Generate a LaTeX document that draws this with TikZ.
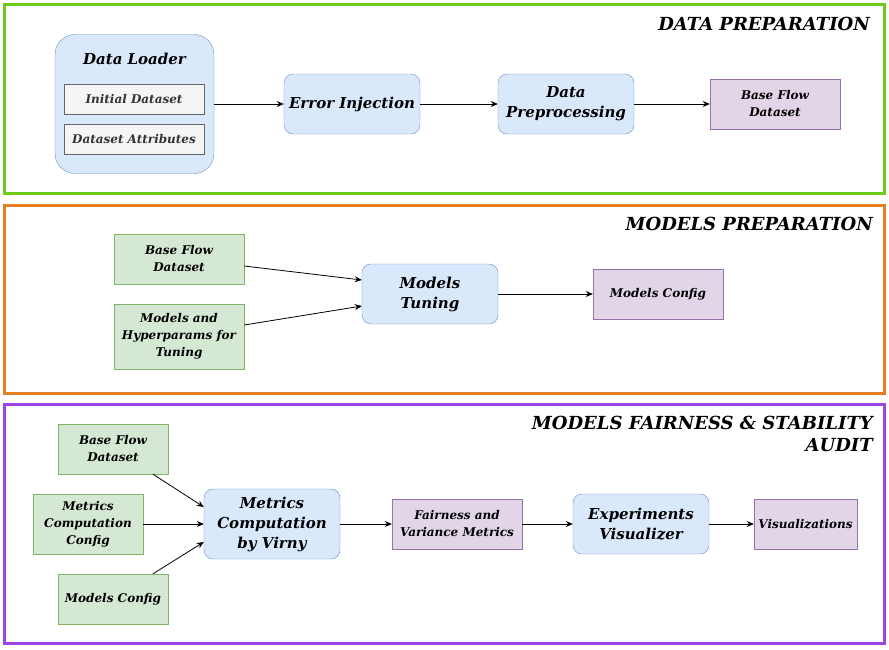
\documentclass[tikz,border=0pt]{standalone}
\usepackage{fontspec}
\setmainfont{DejaVu Serif}
\usetikzlibrary{arrows.meta}

\definecolor{procfill}{HTML}{DAE8FC}
\definecolor{procline}{HTML}{6C8EBF}
\definecolor{infill}{HTML}{D5E8D4}
\definecolor{inline}{HTML}{82B366}
\definecolor{outfill}{HTML}{E1D5E7}
\definecolor{outline}{HTML}{9673A6}
\definecolor{attrfill}{HTML}{F5F5F5}
\definecolor{attrline}{HTML}{666666}
\definecolor{attrtext}{HTML}{333333}
\definecolor{dataframe}{HTML}{6ECB1C}
\definecolor{modelframe}{HTML}{E67E22}
\definecolor{auditframe}{HTML}{9B45E4}

\tikzset{
	every node/.style={font=\bfseries\itshape, align=center, inner sep=0pt},
	proc/.style={draw=procline, fill=procfill, rounded corners=9pt, minimum width=136pt, minimum height=60pt, font=\bfseries\itshape\fontsize{15}{20}\selectfont},
	inbox/.style={draw=inline, fill=infill, minimum width=130pt, minimum height=50pt, font=\bfseries\itshape\fontsize{12}{17}\selectfont},
	outbox/.style={draw=outline, fill=outfill, minimum width=130pt, minimum height=50pt, font=\bfseries\itshape\fontsize{12}{17}\selectfont},
	attr/.style={draw=attrline, fill=attrfill, text=attrtext, minimum width=140pt, minimum height=30pt, font=\bfseries\itshape\fontsize{12}{17}\selectfont},
	frame/.style={line width=3pt},
	title/.style={anchor=east, font=\bfseries\itshape\fontsize{18}{22}\selectfont, align=right},
	flow/.style={-{Stealth[length=7pt,width=6pt]}, line width=0.8pt}
}

\begin{document}
\begin{tikzpicture}[x=1pt, y=-1pt]

	\useasboundingbox (0,0) rectangle (889,649);

	% panel frames

	\draw[frame, color=dataframe] (4.5,4.5) rectangle (884.5,193.5);
	\draw[frame, color=modelframe] (4.5,205) rectangle (884.5,393.5);
	\draw[frame, color=auditframe] (4.5,404.5) rectangle (884.5,643.5);

	\node[title] (datatitle) at (870,24) {DATA PREPARATION};
	\node[title] (modeltitle) at (873,224) {MODELS PREPARATION};
	\node[title] (audittitle) at (873,434) {MODELS FAIRNESS \& STABILITY\\AUDIT};

	% data preparation

	\node[proc, rounded corners=20pt, minimum width=159pt, minimum height=139pt] (loader) at (134.5,104) {};
	\node[font=\bfseries\itshape\fontsize{15}{20}\selectfont] (loadertitle) at (134.5,59) {Data Loader};
	\node[attr] (initial) at (134,99) {Initial Dataset};
	\node[attr] (attrs) at (134,139) {Dataset Attributes};
	\node[proc] (inject) at (352,104) {Error Injection};
	\node[proc] (prep) at (566,104) {Data\\Preprocessing};
	\node[outbox] (baseA) at (775,104) {Base Flow\\Dataset};

	\draw[flow] (loader.east) -- (inject.west);
	\draw[flow] (inject) -- (prep);
	\draw[flow] (prep) -- (baseA);

	% models preparation

	\node[inbox] (baseB) at (179,259) {Base Flow\\Dataset};
	\node[inbox, minimum height=65pt] (hyper) at (179,336.5) {Models and\\Hyperparams for\\Tuning};
	\node[proc] (tuning) at (430,294) {Models\\Tuning};
	\node[outbox] (configA) at (658,294) {Models Config};

	\draw[flow] ([yshift=-7pt]baseB.east) -- ([yshift=14pt]tuning.west);
	\draw[flow] ([yshift=11.5pt]hyper.east) -- ([yshift=-12pt]tuning.west);
	\draw[flow] (tuning) -- (configA);

	% fairness and stability audit

	\node[inbox, minimum width=110pt] (baseC) at (113,449) {Base Flow\\Dataset};
	\node[inbox, minimum width=110pt, minimum height=60pt] (metcfg) at (88,524) {Metrics\\Computation\\Config};
	\node[inbox, minimum width=110pt] (configB) at (113,599) {Models Config};
	\node[proc, minimum height=70pt] (virny) at (272,524) {Metrics\\Computation\\by Virny};
	\node[outbox] (metrics) at (457,524) {Fairness and\\Variance Metrics};
	\node[proc] (visual) at (641,524) {Experiments\\Visualizer};
	\node[outbox, minimum width=103pt] (plots) at (805.5,524) {Visualizations};

	\draw[flow] ([xshift=40pt]baseC.south) -- ([yshift=17pt]virny.west);
	\draw[flow] (metcfg) -- (virny);
	\draw[flow] ([xshift=40pt]configB.north) -- ([yshift=-18pt]virny.west);
	\draw[flow] (virny) -- (metrics);
	\draw[flow] (metrics) -- (visual);
	\draw[flow] (visual) -- (plots);

\end{tikzpicture}
\end{document}
